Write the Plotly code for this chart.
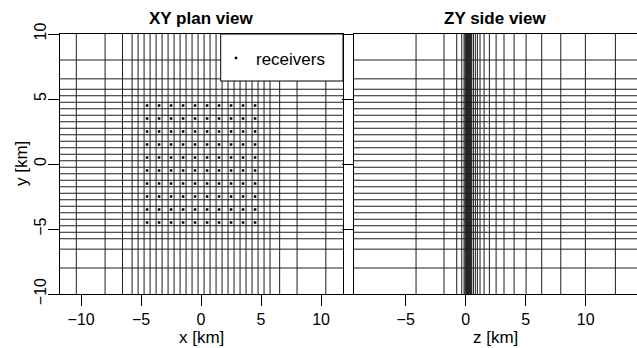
import plotly.graph_objects as go

# ---- data (km) ----
xy_grid = [-10.4, -8.0, -6.55, -5.75, -5.25, -4.75, -4.25, -3.75, -3.25, -2.75, -2.25,
           -1.75, -1.25, -0.75, -0.25, 0.25, 0.75, 1.25, 1.75, 2.25, 2.75, 3.25, 3.75,
           4.25, 4.75, 5.25, 5.75, 6.55, 8.0, 10.4]
z_grid = [-4.14, -1.81, -0.75, -0.33, -0.14, -0.06, 0.0, 0.05, 0.1, 0.15, 0.2, 0.25,
          0.3, 0.35, 0.4, 0.45, 0.5, 0.64, 0.8, 0.97, 1.19, 1.53, 1.97, 2.53, 3.19,
          4.03, 5.03, 6.33, 7.92, 9.97, 12.47]
rec_x = [-4.5, -3.5, -2.5, -1.5, -0.5, 0.5, 1.5, 2.5, 3.5, 4.5]
rec_y = [-4.5, -3.5, -2.5, -1.5, -0.5, 0.5, 1.5, 2.5, 3.5, 4.5]
x_range = [-11.8, 11.83]
y_range = [-10.0, 10.0]
z_range = [-9.31, 14.27]
tick_vals = [-10, -5, 0, 5, 10]

W, H = 637, 348
LINE = "#1e1e1e"
FONT = "Liberation Sans, Arial, sans-serif"


def vlines(vals, lo, hi):
    xs, ys = [], []
    for v in vals:
        xs += [v, v, None]
        ys += [lo, hi, None]
    return xs, ys


def hlines(vals, lo, hi):
    xs, ys = [], []
    for v in vals:
        xs += [lo, hi, None]
        ys += [v, v, None]
    return xs, ys


fig = go.Figure()
# XY plan view grid
gx, gy = vlines(xy_grid, y_range[0] - 1, y_range[1] + 1)
fig.add_trace(go.Scatter(x=gx, y=gy, mode="lines", line=dict(color=LINE, width=1),
                         xaxis="x", yaxis="y", showlegend=False, hoverinfo="skip"))
gx, gy = hlines(xy_grid, x_range[0] - 1, x_range[1] + 1)
fig.add_trace(go.Scatter(x=gx, y=gy, mode="lines", line=dict(color=LINE, width=1),
                         xaxis="x", yaxis="y", showlegend=False, hoverinfo="skip"))
# receivers
rx, ry = [], []
for yv in rec_y:
    for xv in rec_x:
        rx.append(xv)
        ry.append(yv)
fig.add_trace(go.Scatter(x=rx, y=ry, mode="markers", name="receivers",
                         marker=dict(symbol="square", size=2.5, color="black"),
                         xaxis="x", yaxis="y", showlegend=True, hoverinfo="skip"))
# ZY side view grid
gx, gy = vlines(z_grid, y_range[0] - 1, y_range[1] + 1)
fig.add_trace(go.Scatter(x=gx, y=gy, mode="lines", line=dict(color=LINE, width=1),
                         xaxis="x2", yaxis="y2", showlegend=False, hoverinfo="skip"))
gx, gy = hlines(xy_grid, z_range[0] - 1, z_range[1] + 1)
fig.add_trace(go.Scatter(x=gx, y=gy, mode="lines", line=dict(color=LINE, width=1),
                         xaxis="x2", yaxis="y2", showlegend=False, hoverinfo="skip"))

ydom = [1 - 294 / H, 1 - 34 / H]
axis_common = dict(showgrid=False, zeroline=False, showline=True, linecolor="black",
                   linewidth=1, ticks="outside", ticklen=11, tickcolor="black",
                   tickwidth=1, tickfont=dict(family=FONT, size=16, color="black"),
                   tickmode="array", tickvals=tick_vals, automargin=False)

fig.update_layout(
    width=W, height=H,
    margin=dict(l=0, r=0, t=0, b=0),
    paper_bgcolor="white", plot_bgcolor="white",
    font=dict(family=FONT, color="black"),
    xaxis=dict(domain=[59.5 / W, 343 / W], range=x_range, anchor="y", mirror=True,
               **axis_common),
    yaxis=dict(domain=ydom, range=y_range, anchor="x", mirror=True, tickangle=-90,
               ticklabelstandoff=-5, **axis_common),
    xaxis2=dict(domain=[354 / W, 1.0], range=z_range, anchor="y2", mirror=True,
                **axis_common),
    yaxis2=dict(domain=ydom, range=y_range, anchor="x2", mirror=False,
                showticklabels=False, **axis_common),
    legend=dict(x=216 / W, y=1 - 58.5 / H, xanchor="left", yanchor="middle",
                bgcolor="rgba(0,0,0,0)", borderwidth=0,
                font=dict(family=FONT, size=17, color="black")),
    shapes=[dict(type="rect", xref="paper", yref="paper", layer="above",
                 x0=220.7 / W, x1=343 / W, y0=1 - 81 / H, y1=1 - 34 / H,
                 line=dict(color="black", width=1), fillcolor="white")],
    annotations=[
        dict(text="<b>XY plan view</b>", x=201 / W, y=1 - 18.5 / H, xref="paper",
             yref="paper", showarrow=False, xanchor="center", yanchor="middle",
             font=dict(family=FONT, size=17, color="black")),
        dict(text="<b>ZY side view</b>", x=495.5 / W, y=1 - 18.5 / H, xref="paper",
             yref="paper", showarrow=False, xanchor="center", yanchor="middle",
             font=dict(family=FONT, size=17, color="black")),
        dict(text="x [km]", x=201 / W, y=1 - 337 / H, xref="paper", yref="paper",
             showarrow=False, xanchor="center", yanchor="middle",
             font=dict(family=FONT, size=17, color="black")),
        dict(text="z [km]", x=495.5 / W, y=1 - 337 / H, xref="paper", yref="paper",
             showarrow=False, xanchor="center", yanchor="middle",
             font=dict(family=FONT, size=17, color="black")),
        dict(text="y [km]", x=21 / W, y=1 - 164 / H, xref="paper", yref="paper",
             showarrow=False, xanchor="center", yanchor="middle", textangle=-90,
             font=dict(family=FONT, size=17, color="black")),
    ],
)

fig.write_html("out.html")
